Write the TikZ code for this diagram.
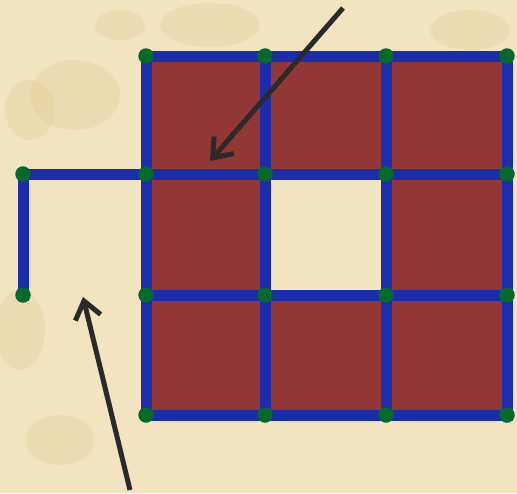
\documentclass[tikz,border=0pt]{standalone}
\usetikzlibrary{arrows.meta}
\definecolor{parch}{HTML}{F2E4C1}
\definecolor{stain}{HTML}{E2C58A}
\definecolor{brick}{HTML}{933636}
\definecolor{edgeblue}{HTML}{1B2DAA}
\definecolor{dotgreen}{HTML}{04692C}
\definecolor{inkgray}{HTML}{2A2A2A}
\tikzset{
  edge/.style={edgeblue, line width=11pt, line cap=rect},
  vertex/.style={circle, fill=dotgreen, inner sep=0pt, minimum size=15.5pt},
  pointer/.style={inkgray, line width=5pt, -{Straight Barb[length=17pt, width=26pt]}},
  blot/.style={stain, opacity=0.25}
}
\begin{document}
\begin{tikzpicture}[x=1pt, y=-1pt]
  % Parchment
  \fill[parch] (0,0) rectangle (517,493);
  \useasboundingbox (0,0) rectangle (517,493);
  \fill[blot] (75,95) ellipse (45 and 35);
  \fill[blot] (210,25) ellipse (50 and 22);
  \fill[blot] (120,25) ellipse (25 and 15);
  \fill[blot] (20,330) ellipse (25 and 40);
  \fill[blot] (30,110) ellipse (25 and 30);
  \fill[blot] (470,30) ellipse (40 and 20);
  \fill[blot] (60,440) ellipse (35 and 25);
  % Grid points
  \foreach \c/\x in {0/146,1/265,2/386,3/507}
    \foreach \r/\y in {0/56,1/174,2/295,3/415}
      \coordinate (g-\c-\r) at (\x,\y);
  \coordinate (hook-top) at (23,174);
  \coordinate (hook-end) at (23,295);
  % Squares (centre one left open)
  \foreach \c/\r [evaluate=\c as \cn using int(\c+1), evaluate=\r as \rn using int(\r+1)]
      in {0/0,1/0,2/0,0/1,2/1,0/2,1/2,2/2}
    \fill[brick] (g-\c-\r) rectangle (g-\cn-\rn);
  % Blue edges
  \foreach \r in {0,...,3}
    \draw[edge] (g-0-\r) -- (g-3-\r);
  \foreach \c in {0,...,3}
    \draw[edge] (g-\c-0) -- (g-\c-3);
  \draw[edge] (g-0-1) -- (hook-top) -- (hook-end);
  % Green dots
  \foreach \c in {0,...,3}
    \foreach \r in {0,...,3}
      \node[vertex] (v-\c-\r) at (g-\c-\r) {};
  \node[vertex] (v-hook-top) at (hook-top) {};
  \node[vertex] (v-hook-end) at (hook-end) {};
  % Arrows
  \coordinate (top-tail) at (343,8);
  \coordinate (top-tip) at (210,161);
  \draw[pointer] (top-tail) -- (top-tip);
  \coordinate (low-tail) at (130,490);
  \coordinate (low-tip) at (83,297);
  \draw[pointer] (low-tail) -- (low-tip);
\end{tikzpicture}
\end{document}
